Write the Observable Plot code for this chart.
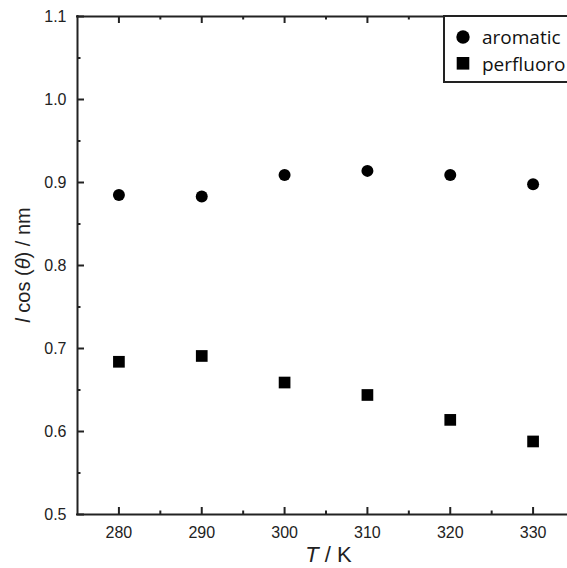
<!DOCTYPE html>
<html><head><meta charset="utf-8">
<script src="https://cdn.jsdelivr.net/npm/d3@7"></script>
<script src="https://cdn.jsdelivr.net/npm/@observablehq/plot@0.6"></script>
<style>
html,body{margin:0;padding:0;background:#fff;overflow:hidden;}
#chart{position:relative;width:567px;height:568px;overflow:hidden;}
#chart svg{display:block;max-width:none !important;width:577px !important;height:568px !important;overflow:hidden !important;}
</style></head><body><div id="chart"></div>
<script>
const temperatures = [280, 290, 300, 310, 320, 330];
const aromatic = [0.885, 0.883, 0.909, 0.914, 0.909, 0.898];
const perfluoro = [0.684, 0.691, 0.659, 0.644, 0.614, 0.588];
const seriesNames = ["aromatic", "perfluoro"];
const xTicks = [280, 290, 300, 310, 320, 330];
const xMinorTicks = [285, 295, 305, 315, 325];
const yTicks = [0.5, 0.6, 0.7, 0.8, 0.9, 1.0, 1.1];
const yMinorTicks = [0.55, 0.65, 0.75, 0.85, 0.95, 1.05];
const xDomain = [275, 335];
const yDomain = [0.5, 1.1];

const W = 577, H = 568, ML = 77, MR = 3, MT = 16, MB = 54;
const ink = "#222";
const major = 7, minor = 3.5;

const data = [
  ...temperatures.map((t, i) => ({T: t, v: aromatic[i], s: seriesNames[0]})),
  ...temperatures.map((t, i) => ({T: t, v: perfluoro[i], s: seriesNames[1]}))
];

// standalone scales matching the plot, used to size the inward tick marks
const xS = Plot.scale({x: {domain: xDomain, range: [ML, W - MR]}});
const yS = Plot.scale({y: {domain: yDomain, range: [H - MB, MT]}});
const dY = (px) => yS.invert(H - MB - px) - yDomain[0];
const dX = (px) => xS.invert(ML + px) - xDomain[0];

const tickOpts = {stroke: ink, strokeWidth: 2};
const xTickMarks = (ticks, len) => [
  Plot.ruleX(ticks, {x: d => d, y1: yDomain[0], y2: yDomain[0] + dY(len), ...tickOpts}),
  Plot.ruleX(ticks, {x: d => d, y1: yDomain[1], y2: yDomain[1] - dY(len), ...tickOpts})
];
const yTickMarks = (ticks, len) => [
  Plot.ruleY(ticks, {y: d => d, x1: xDomain[0], x2: xDomain[0] + dX(len), ...tickOpts})
];

const chart = Plot.plot({
  width: W, height: H,
  marginLeft: ML, marginRight: MR, marginTop: MT, marginBottom: MB,
  style: {fontFamily: "'Liberation Sans', Arial, sans-serif", fontSize: "16px", color: ink, background: "#fff"},
  x: {domain: xDomain},
  y: {domain: yDomain},
  symbol: {domain: seriesNames, range: ["circle", "square"]},
  marks: [
    Plot.ruleY([yDomain[0], yDomain[1]], {stroke: ink, strokeWidth: 2, strokeLinecap: "square"}),
    Plot.ruleX([xDomain[0]], {stroke: ink, strokeWidth: 2, strokeLinecap: "square"}),
    Plot.axisX({ticks: xTicks, tickSize: 0, tickPadding: 12, label: null, fontSize: 16}),
    Plot.axisY({ticks: yTicks, tickSize: 0, tickPadding: 11, label: null, fontSize: 16, tickFormat: d3.format(".1f")}),
    ...xTickMarks(xTicks, major),
    ...xTickMarks(xMinorTicks, minor),
    ...yTickMarks(yTicks, major),
    ...yTickMarks(yMinorTicks, minor),
    Plot.dot(data.filter(d => d.s === seriesNames[0]), {x: "T", y: "v", symbol: "s", r: 6, fill: "#000", stroke: "none"}),
    Plot.dot(data.filter(d => d.s === seriesNames[1]), {x: "T", y: "v", symbol: "s", r: 6.6, fill: "#000", stroke: "none"})
  ]
});
document.getElementById("chart").appendChild(chart);

const svg = d3.select(chart);
const xs = chart.scale("x"), ys = chart.scale("y");
const titleFont = "'Liberation Sans', Arial, sans-serif";

// x title
const xt = svg.append("text")
  .attr("x", (xs.apply(xDomain[0]) + xs.apply(xDomain[1])) / 2 + 3)
  .attr("y", 562)
  .attr("text-anchor", "middle")
  .attr("font-family", titleFont).attr("font-size", 22).attr("fill", ink);
xt.append("tspan").attr("font-style", "italic").text("T");
xt.append("tspan").text(" / K");

// y title
const yt = svg.append("text")
  .attr("transform", `translate(30,${(ys.apply(yDomain[0]) + ys.apply(yDomain[1])) / 2}) rotate(-90)`)
  .attr("text-anchor", "middle")
  .attr("font-family", titleFont).attr("font-size", 20).attr("fill", ink);
yt.append("tspan").attr("font-style", "italic").text("l");
yt.append("tspan").text(" cos (");
yt.append("tspan").attr("font-style", "italic").text("θ");
yt.append("tspan").text(") / nm");

// legend
const lg = svg.append("g");
lg.append("rect").attr("x", 444).attr("y", MT).attr("width", 200).attr("height", 66)
  .attr("fill", "#fff").attr("stroke", ink).attr("stroke-width", 2);
lg.append("circle").attr("cx", 463).attr("cy", 37).attr("r", 6.7).attr("fill", "#000");
lg.append("rect").attr("x", 456.7).attr("y", 57).attr("width", 12.6).attr("height", 12.6).attr("fill", "#000");
lg.append("text").attr("x", 482).attr("y", 44).attr("text-anchor", "start").attr("font-family", "'Open Sans', sans-serif").attr("font-size", 19).attr("fill", "#111").text(seriesNames[0]);
lg.append("text").attr("x", 482).attr("y", 71).attr("text-anchor", "start").attr("font-family", "'Open Sans', sans-serif").attr("font-size", 19).attr("fill", "#111").text(seriesNames[1]);
</script>
</body></html>
